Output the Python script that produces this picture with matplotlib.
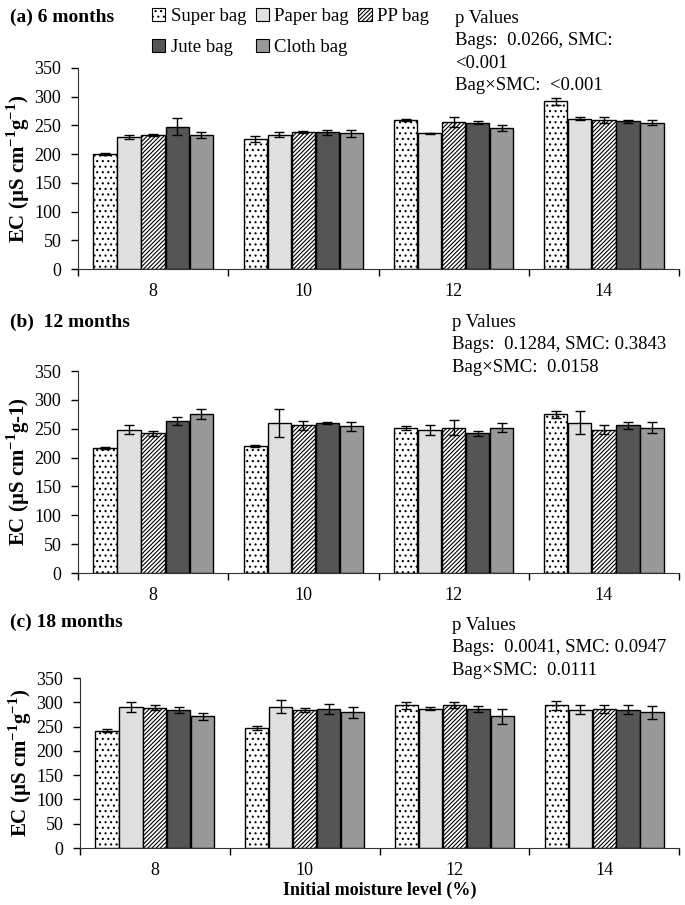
import matplotlib
matplotlib.use("Agg")
import matplotlib.pyplot as plt
import numpy as np
from matplotlib.patches import Patch

plt.rcParams["font.family"] = ["Liberation Serif", "DejaVu Serif"]
plt.rcParams["mathtext.fontset"] = "custom"
plt.rcParams["mathtext.rm"] = "Liberation Serif"
plt.rcParams["mathtext.bf"] = "Liberation Serif:bold"
plt.rcParams["hatch.linewidth"] = 0.8

# Data
moisture = ["8", "10", "12", "14"]
bags = ["Super bag", "Paper bag", "PP bag", "Jute bag", "Cloth bag"]

# (a) 6 months: rows = bags, cols = moisture levels
ec_6 = [[200, 227, 259, 292],
        [230, 234, 236, 262],
        [233, 238, 256, 259],
        [248, 238, 255, 257],
        [233, 236, 245, 255]]
err_6 = [[2, 5, 2, 6],
         [3, 4, 1, 2],
         [2, 2, 8, 5],
         [15, 4, 2, 2],
         [5, 6, 5, 5]]

# (b) 12 months
ec_12 = [[217, 220, 251, 275],
         [248, 260, 248, 260],
         [242, 256, 252, 248],
         [264, 260, 242, 256],
         [275, 254, 252, 252]]
err_12 = [[2, 1, 4, 6],
          [8, 24, 9, 20],
          [4, 8, 13, 8],
          [7, 1, 4, 6],
          [9, 8, 8, 10]]

# (c) 18 months
ec_18 = [[241, 247, 294, 294],
         [291, 291, 287, 285],
         [289, 284, 294, 286],
         [284, 286, 286, 285],
         [271, 279, 271, 279]]
err_18 = [[3, 5, 7, 9],
          [10, 14, 3, 10],
          [5, 5, 6, 8],
          [6, 10, 7, 10],
          [7, 12, 15, 13]]

panels = [
    ("(a) 6 months", ec_6, err_6,
     "p Values\nBags:  0.0266, SMC:\n<0.001\nBag\u00d7SMC:  <0.001",
     r"EC (µS cm$^{\mathbf{-1}}$g$^{\mathbf{-1}}$)"),
    ("(b)  12 months", ec_12, err_12,
     "p Values\nBags:  0.1284, SMC: 0.3843\nBag\u00d7SMC:  0.0158",
     r"EC (µS cm$^{\mathbf{-1}}$g-1)"),
    ("(c) 18 months", ec_18, err_18,
     "p Values\nBags:  0.0041, SMC: 0.0947\nBag\u00d7SMC:  0.0111",
     r"EC (µS cm$^{\mathbf{-1}}$g$^{\mathbf{-1}}$)"),
]

colors = ["white", "#e0e0e0", "white", "#555555", "#999999"]
hatches = ["...", None, "////////", None, None]

W, H = 685, 905
fig = plt.figure(figsize=(W / 100, H / 100), dpi=100)

# axes boxes in pixels: left, right, y of 0, y of 350
boxes = [(78, 679, 269, 68), (78, 679, 573, 371), (80, 679, 848, 678)]
titles_y = [17, 322, 622]
pval_xy = [(455, 10), (452, 314), (452, 617)]

fs = 13
width = 0.155
x = np.arange(len(moisture))

for (title, ec, err, ptxt, ylab), (l, r, b, t), ty, (px, py) in zip(panels, boxes, titles_y, pval_xy):
    ax = fig.add_axes([l / W, 1 - b / H, (r - l) / W, (b - t) / H])
    for i in range(len(bags)):
        ax.bar(x + (i - 2) * (width + 0.005), ec[i], width, yerr=err[i],
               color=colors[i], edgecolor="black", linewidth=1, hatch=hatches[i],
               error_kw=dict(ecolor="black", elinewidth=1, capsize=3.5, capthick=1))
    ax.set_xlim(-0.5, 3.5)
    ax.set_ylim(0, 350)
    ax.set_yticks(range(0, 351, 50))
    ax.set_xticks(x)
    ax.set_xticklabels(moisture)
    ax.set_xticks(np.arange(-0.5, 3.6, 1), minor=True)
    ax.tick_params(axis="x", which="major", length=0, pad=10, labelsize=fs)
    ax.tick_params(axis="x", which="minor", length=5, direction="out", width=1)
    ax.tick_params(axis="y", length=5, direction="out", width=1, labelsize=fs, pad=7)
    for s in ["top", "right"]:
        ax.spines[s].set_visible(False)
    ax.spines["left"].set_color("#333333")
    ax.spines["bottom"].set_color("#333333")
    ax.set_ylabel(ylab, fontsize=15, fontweight="bold", labelpad=2)
    fig.text(10 / W, 1 - ty / H, title, fontsize=14, fontweight="bold", va="center")
    fig.text(px / W, 1 - py / H, ptxt, fontsize=13.5, va="top", linespacing=1.42)
    last = ax

last.set_xlabel("Initial moisture level (%)", fontsize=fs, fontweight="bold", labelpad=2)

handles = [Patch(facecolor=c, edgecolor="black", hatch=h, linewidth=0.8) for c, h in zip(colors, hatches)]
order = [0, 3, 1, 4, 2]
fig.legend([handles[i] for i in order], [bags[i] for i in order], ncol=3,
           loc="upper left", bbox_to_anchor=(152 / W, 1 - 8 / H), frameon=False,
           fontsize=13.5, handlelength=0.7, handleheight=0.7, handletextpad=0.3,
           columnspacing=0.5, labelspacing=0.75, borderaxespad=0, borderpad=0)

fig.savefig("out.png", dpi=100)
